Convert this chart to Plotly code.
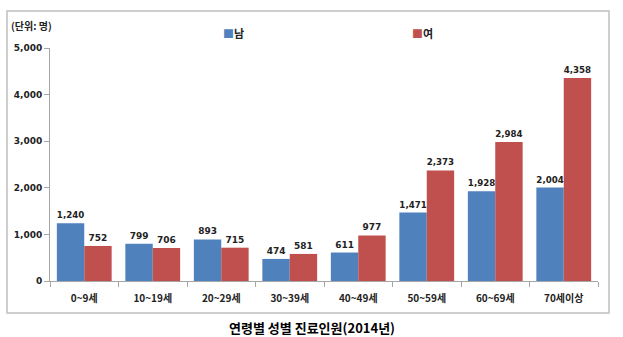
import plotly.graph_objects as go

categories = ["0~9세", "10~19세", "20~29세", "30~39세", "40~49세", "50~59세", "60~69세", "70세이상"]
male = [1240, 799, 893, 474, 611, 1471, 1928, 2004]
female = [752, 706, 715, 581, 977, 2373, 2984, 4358]
series_names = ["남", "여"]
colors = ["#4F81BD", "#C0504D"]
y_ticks = [0, 1000, 2000, 3000, 4000, 5000]
y_tick_labels = ["0", "1,000", "2,000", "3,000", "4,000", "5,000"]

FONT = "DejaVu Sans, Noto Sans CJK KR, sans-serif"
KFONT = "Noto Sans CJK KR, DejaVu Sans, sans-serif"

W, H = 623, 337
L, R, T, B = 50, 25, 48, 56
pw, ph = W - L - R, H - T - B

def px_x(x):
    return (x - L) / pw

def px_y(y):
    return (H - B - y) / ph

fig = go.Figure()
for name, vals, col in zip(series_names, [male, female], colors):
    fig.add_trace(go.Bar(
        x=categories, y=vals, name=name, marker_color=col,
        marker_line_width=0,
        text=[f"{v:,}" for v in vals], textposition="outside",
        textfont=dict(family=FONT, size=9, color="#222222", weight="bold"),
        cliponaxis=False, showlegend=False,
    ))

fig.update_layout(
    width=W, height=H,
    margin=dict(l=L, r=R, t=T, b=B),
    paper_bgcolor="white", plot_bgcolor="white",
    barmode="group", bargap=0.2, bargroupgap=0,
    font=dict(family=FONT, size=9, color="#222222"),
    xaxis=dict(
        type="category", showline=True, linecolor="#A6A6A6", linewidth=1,
        ticks="outside", tickson="boundaries", ticklen=5, tickcolor="#A6A6A6",
        ticklabelstandoff=8,
        tickfont=dict(family=KFONT, size=10, weight="bold", color="#222222"),
        showgrid=False, zeroline=False,
    ),
    yaxis=dict(
        range=[0, 5000], tickvals=y_ticks, ticktext=y_tick_labels,
        showline=True, linecolor="#A6A6A6", linewidth=1,
        ticks="outside", ticklen=5, tickcolor="#A6A6A6",
        tickfont=dict(family=FONT, size=9, weight="bold", color="#222222"),
        showgrid=False, zeroline=False,
    ),
)

# outer frame
fig.add_shape(type="rect", xref="paper", yref="paper",
              x0=px_x(7), x1=px_x(609), y0=px_y(313), y1=px_y(11),
              line=dict(color="#BFBFBF", width=1.5), fillcolor="rgba(0,0,0,0)", layer="below")

# unit label
fig.add_annotation(xref="paper", yref="paper", x=px_x(9), y=px_y(25), xanchor="left", yanchor="middle",
                   text="<b>(단위: 명)</b>", showarrow=False,
                   font=dict(family=KFONT, size=10, color="#222222"))

# legend
for name, col, lx in zip(series_names, colors, [221, 410]):
    fig.add_annotation(xref="paper", yref="paper", x=px_x(lx), y=px_y(33), xanchor="left", yanchor="middle",
                       text=f"<span style='color:{col}'>■</span><b>{name}</b>", showarrow=False,
                       font=dict(family=KFONT, size=11, color="#222222"))

# caption
fig.add_annotation(xref="paper", yref="paper", x=px_x(311.5), y=px_y(327), xanchor="center", yanchor="middle",
                   text="<b>연령별 성별 진료인원(2014년)</b>", showarrow=False,
                   font=dict(family=KFONT, size=13, color="#000000"))

fig.write_html("out.html")
